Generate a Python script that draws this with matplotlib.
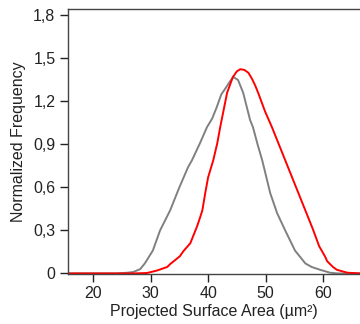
import matplotlib
matplotlib.use("Agg")
import matplotlib.pyplot as plt
from matplotlib.ticker import FuncFormatter

plt.rcParams['font.family'] = ['Liberation Sans', 'DejaVu Sans']

gray_x = [15.7, 24.0, 26.0, 27.0, 28.2, 29.0, 30.4, 31.65, 33.4, 35.0, 36.5, 37.2, 38.6, 39.8, 40.7,
          41.5, 42.3, 43.0, 43.8, 44.4, 45.2, 46.1, 47.3, 47.8, 48.6, 49.4, 50.8, 52.0, 53.4, 55.1,
          56.9, 58.0, 59.5, 61.2, 62.5, 66.4]
gray_y = [0.0, 0.0, 0.005, 0.01, 0.03, 0.07, 0.16, 0.30, 0.44, 0.60, 0.74, 0.79, 0.91, 1.02, 1.08,
          1.16, 1.25, 1.29, 1.34, 1.37, 1.35, 1.26, 1.07, 1.02, 0.90, 0.79, 0.56, 0.42, 0.30, 0.16,
          0.07, 0.045, 0.025, 0.005, 0.0, 0.0]

red_x = [15.7, 27.0, 29.4, 31.1, 32.9, 33.4, 35.1, 35.7, 36.9, 37.5, 38.1, 38.6, 39.0, 39.5, 40.0,
         40.9, 41.6, 42.1, 42.4, 42.8, 43.3, 44.3, 45.0, 45.6, 46.3, 47.0, 47.6, 48.2, 48.7, 49.9,
         51.1, 52.2, 53.4, 54.6, 55.7, 56.9, 58.2, 59.3, 60.3, 60.7, 61.7, 62.4, 64.2, 66.4]
red_y = [0.0, 0.0, 0.003, 0.02, 0.045, 0.065, 0.12, 0.155, 0.21, 0.27, 0.33, 0.39, 0.44, 0.56, 0.67,
         0.79, 0.91, 1.02, 1.08, 1.16, 1.26, 1.37, 1.41, 1.425, 1.42, 1.40, 1.36, 1.31, 1.26, 1.13,
         1.02, 0.91, 0.79, 0.67, 0.56, 0.44, 0.31, 0.19, 0.12, 0.085, 0.045, 0.025, 0.005, 0.0]

x_ticks = [20, 30, 40, 50, 60]
y_ticks = [0, 0.3, 0.6, 0.9, 1.2, 1.5, 1.8]

fig = plt.figure(figsize=(3.6, 3.24), dpi=100)
ax = fig.add_axes([68/360, 50/324, 1 - 68/360, (274-9)/324])
ax.plot(gray_x, gray_y, color='#808080', lw=1.4)
ax.plot(red_x, red_y, color='#ff0000', lw=1.4)
ax.set_xlim(15.65, 66.4)
ax.set_ylim(-0.004, 1.845)
ax.set_xticks(x_ticks)
ax.set_yticks(y_ticks)
ax.yaxis.set_major_formatter(FuncFormatter(lambda v, p: '0' if abs(v) < 1e-9 else f'{v:.1f}'.replace('.', ',')))
ax.tick_params(direction='out', length=6, width=1, labelsize=11.5, colors='#222222', pad=3)
for s in ['left', 'bottom', 'top']:
    ax.spines[s].set_color('#444444')
    ax.spines[s].set_linewidth(1)
ax.spines['right'].set_visible(False)
ax.set_xlabel('Projected Surface Area (µm²)', fontsize=11.5, color='#222222', labelpad=2)
ax.set_ylabel('Normalized Frequency', fontsize=11.5, color='#222222', labelpad=5)
fig.savefig('out.png', dpi=100)
